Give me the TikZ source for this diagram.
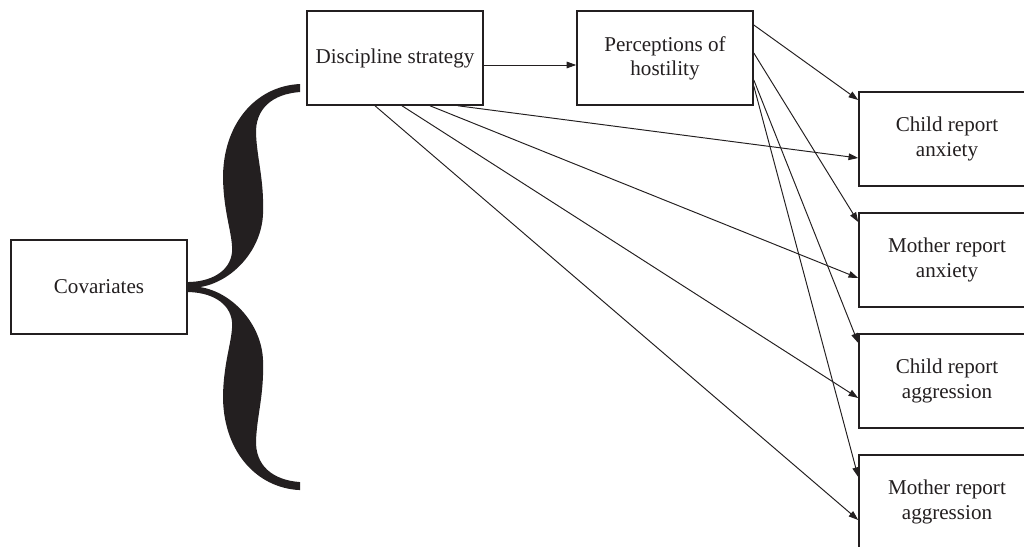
\documentclass[tikz,border=0pt]{standalone}
\usepackage{fontspec}
\setmainfont{Liberation Serif}
\usepackage{xcolor}
\usepackage{tikz}
\usetikzlibrary{arrows.meta}

\definecolor{ink}{HTML}{231F20}

\begin{document}
\begin{tikzpicture}[>={Triangle[length=5.5pt,width=3.8pt]}, font=\fontsize{12}{13.7}\selectfont]
                    % Define styles
                    \tikzstyle{box} = [rectangle, draw=ink, line width=0.9pt, text=ink, align=center, minimum width=3.52cm, minimum height=1.88cm, inner sep=0pt]
                    \tikzstyle{line} = [draw=ink, ->, line width=0.55pt]

                    \path[use as bounding box, clip] (0,0) rectangle (20.48,10.94);

                    % Variables
                    \node [box] (cov) at (1.98,5.20) {Covariates};
                    \node [box] (disc) at (7.90,9.78) {Discipline strategy};
                    \node [box] (perc) at (13.30,9.78) {Perceptions of\\hostility};
                    \node [box] (ca) at (18.94,8.16) {Child report\\anxiety};
                    \node [box] (ma) at (18.94,5.74) {Mother report\\anxiety};
                    \node [box] (cg) at (18.94,3.32) {Child report\\aggression};
                    \node [box] (mg) at (18.94,0.90) {Mother report\\aggression};

                    % Brace from covariates
                    \begin{scope}[x=0.02cm, y=-0.02cm, yshift=10.94cm]
                    \fill [ink] (300,84) .. controls (255,86) and (222,125) .. (223,180)
                        .. controls (224,215) and (233,235) .. (232,252)
                        .. controls (230,272) and (210,282) .. (187,282) -- (187,292)
                        .. controls (210,292) and (230,302) .. (232,322)
                        .. controls (233,339) and (224,359) .. (223,394)
                        .. controls (222,449) and (255,488) .. (300,490) -- (300,482)
                        .. controls (272,480) and (255,465) .. (256,440)
                        .. controls (257,415) and (264,395) .. (263,361)
                        .. controls (262,324) and (232,292) .. (200,287)
                        .. controls (232,282) and (262,250) .. (263,213)
                        .. controls (264,179) and (257,159) .. (256,134)
                        .. controls (255,109) and (272,94) .. (300,92) -- cycle;
                    \end{scope}

                    % Discipline strategy paths
                    \draw [line] ([yshift=-0.14cm]disc.east) -- ([yshift=-0.14cm]perc.west);
                    \draw [line] ([xshift=1.26cm]disc.south) -- ([yshift=-0.38cm]ca.west);
                    \draw [line] ([xshift=0.70cm]disc.south) -- ([yshift=-0.36cm]ma.west);
                    \draw [line] ([xshift=0.14cm]disc.south) -- ([yshift=-0.34cm]cg.west);
                    \draw [line] ([xshift=-0.40cm]disc.south) -- ([yshift=-0.36cm]mg.west);

                    % Perceptions of hostility paths
                    \draw [line] ([yshift=0.66cm]perc.east) -- ([yshift=0.78cm]ca.west);
                    \draw [line] ([yshift=0.10cm]perc.east) -- ([yshift=0.76cm]ma.west);
                    \draw [line] ([yshift=-0.44cm]perc.east) -- ([yshift=0.76cm]cg.west);
                    \draw [line] ([yshift=-0.56cm]perc.east) -- ([yshift=0.50cm]mg.west);
                \end{tikzpicture}
\end{document}
